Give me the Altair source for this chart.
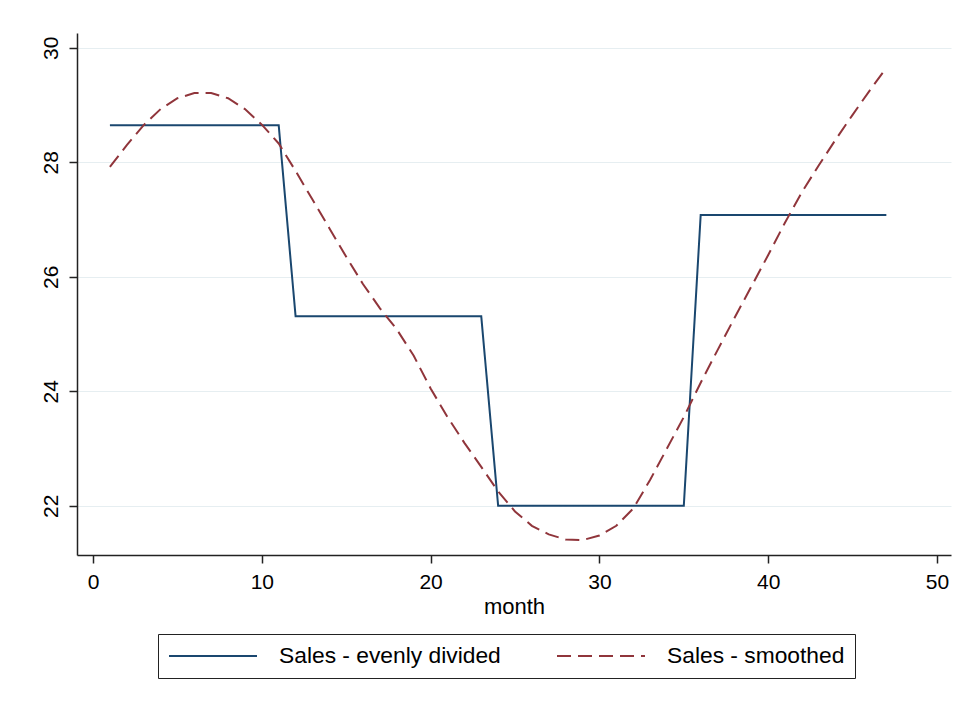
import altair as alt
import pandas as pd

# ---- data ----
months = [1, 2, 3, 4, 5, 6, 7, 8, 9, 10, 11, 12, 13, 14, 15, 16, 17, 18, 19, 20,
          21, 22, 23, 24, 25, 26, 27, 28, 29, 30, 31, 32, 33, 34, 35, 36, 37, 38,
          39, 40, 41, 42, 43, 44, 45, 46, 47]

sales_even = [28.65, 28.65, 28.65, 28.65, 28.65, 28.65, 28.65, 28.65, 28.65, 28.65, 28.65,
              25.31, 25.31, 25.31, 25.31, 25.31, 25.31, 25.31, 25.31, 25.31, 25.31, 25.31, 25.31,
              22.00, 22.00, 22.00, 22.00, 22.00, 22.00, 22.00, 22.00, 22.00, 22.00, 22.00, 22.00,
              27.08, 27.08, 27.08, 27.08, 27.08, 27.08, 27.08, 27.08, 27.08, 27.08, 27.08, 27.08]

sales_smooth = [27.92, 28.30, 28.65, 28.93, 29.12, 29.21, 29.21, 29.12, 28.93, 28.66,
                28.33, 27.85, 27.35, 26.85, 26.35, 25.87, 25.45, 25.08, 24.62, 24.05,
                23.55, 23.10, 22.68, 22.25, 21.90, 21.65, 21.50, 21.41, 21.40, 21.48,
                21.65, 21.95, 22.45, 23.00, 23.55, 24.15, 24.72, 25.28, 25.83, 26.38,
                26.95, 27.48, 27.95, 28.40, 28.83, 29.25, 29.65]

series_names = ["Sales - evenly divided", "Sales - smoothed"]
x_ticks = [0, 10, 20, 30, 40, 50]
y_ticks = [22, 24, 26, 28, 30]

rows = []
for m, v in zip(months, sales_even):
    rows.append({"month": m, "value": v, "series": series_names[0]})
for m, v in zip(months, sales_smooth):
    rows.append({"month": m, "value": v, "series": series_names[1]})
df = pd.DataFrame(rows)

FONT = "Liberation Sans"
NAVY = "#1a476f"
MAROON = "#90353b"

legend_def = alt.Legend(
    orient="none", legendX=81, legendY=601, direction="horizontal", columns=2,
    title=None, symbolType="M-1,0H7", symbolSize=484, symbolStrokeWidth=2,
    labelFont=FONT, labelFontSize=22.8, labelColor="black", labelOffset=87,
    columnPadding=52, padding=10, strokeColor="#222222", fillColor="white",
    labelLimit=400,
)

chart = alt.Chart(df).mark_line(strokeWidth=2).encode(
    x=alt.X("month:Q",
            scale=alt.Scale(domain=[-0.95, 50.83], nice=False, zero=False),
            axis=alt.Axis(values=x_ticks, title="month", grid=False, format="d",
                          labelPadding=8, titlePadding=4)),
    y=alt.Y("value:Q",
            scale=alt.Scale(domain=[21.14, 30.26], nice=False, zero=False),
            axis=alt.Axis(values=y_ticks, title=None, grid=True, format="d",
                          labelAngle=270, labelAlign="center", labelBaseline="bottom",
                          labelPadding=8)),
    color=alt.Color("series:N",
                    scale=alt.Scale(domain=series_names, range=[NAVY, MAROON]),
                    legend=legend_def),
    strokeDash=alt.StrokeDash("series:N",
                              scale=alt.Scale(domain=series_names, range=[[1, 0], [14, 7]]),
                              legend=legend_def),
    order=alt.Order("month:Q"),
).properties(
    width=874, height=522,
    padding={"left": 69, "top": 25, "right": 2, "bottom": 140},
    autosize=alt.AutoSizeParams(type="none"),
).configure_view(
    stroke="transparent"
).configure_axis(
    labelFont=FONT, labelFontSize=21, labelColor="black",
    titleFont=FONT, titleFontSize=22, titleColor="black", titleFontWeight="normal",
    domainColor="#222222", domainWidth=1.5, tickColor="#222222", tickWidth=1.5,
    tickSize=8, gridColor="#e6eef1", gridWidth=1,
)

chart.save("out.html", embed_options={"renderer": "svg", "actions": False})
